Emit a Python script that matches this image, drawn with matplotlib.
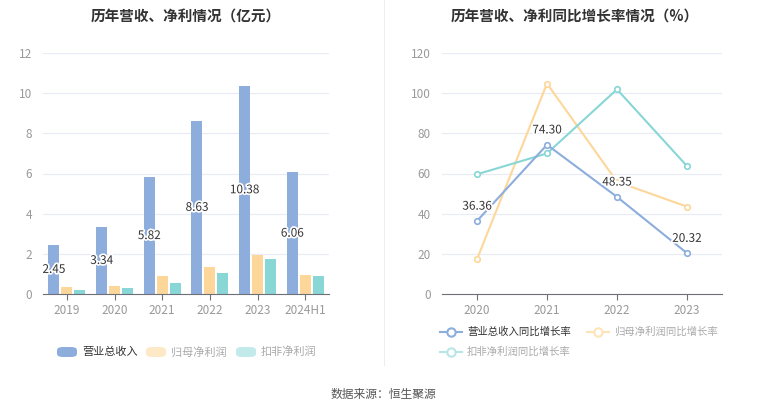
import numpy as np
import matplotlib
matplotlib.use('Agg')
import matplotlib.pyplot as plt
from matplotlib.lines import Line2D
from matplotlib.patches import FancyBboxPatch
import matplotlib.patheffects as pe

plt.rcParams['font.family'] = ['Noto Sans CJK SC', 'DejaVu Sans']

# data
years = ['2019', '2020', '2021', '2022', '2023', '2024H1']
revenue = [2.45, 3.34, 5.82, 8.63, 10.38, 6.06]
net_profit = [0.35, 0.42, 0.88, 1.35, 1.95, 0.97]
deducted_profit = [0.20, 0.30, 0.55, 1.07, 1.75, 0.90]

growth_years = ['2020', '2021', '2022', '2023']
revenue_growth = [36.36, 74.30, 48.35, 20.32]
net_profit_growth = [17.3, 104.8, 55.9, 43.5]
deducted_growth = [59.6, 70.0, 101.9, 63.7]

BLUE = '#8daddc'
YELLOW = '#fdd79a'
TEAL = '#88d6d6'
GRID = '#e6ebf5'
TICK = '#999999'

W, H = 765, 413
fig = plt.figure(figsize=(W / 100, H / 100), dpi=100)


def px_axes(x0, y0, x1, y1):
    return fig.add_axes([x0 / W, 1 - y1 / H, (x1 - x0) / W, (y1 - y0) / H])


def style(ax):
    for s in ['top', 'right', 'left']:
        ax.spines[s].set_visible(False)
    ax.spines['bottom'].set_color('#6e7079')
    ax.spines['bottom'].set_linewidth(0.8)
    ax.grid(axis='y', color=GRID, linewidth=0.8)
    ax.set_axisbelow(True)
    ax.tick_params(axis='y', length=0, labelsize=8.5, labelcolor=TICK, pad=8)
    ax.tick_params(axis='x', length=4, color='#6e7079', labelsize=8.5,
                   labelcolor=TICK, pad=3)


# left: bars
ax1 = px_axes(43, 53, 329, 294)
x = np.arange(len(years))
bw = 0.23
off = 0.27
ax1.bar(x - off, revenue, bw, color=BLUE, zorder=2)
ax1.bar(x, net_profit, bw, color=YELLOW, zorder=2)
ax1.bar(x + off, deducted_profit, bw, color=TEAL, zorder=2)
for xi, v in zip(x, revenue):
    ax1.text(xi - off, v / 2, f'{v:.2f}', ha='center', va='center', fontsize=8.5,
             color='#333333', zorder=3,
             path_effects=[pe.withStroke(linewidth=2.5, foreground='white')])
ax1.set_xlim(-0.5, len(years) - 0.5)
ax1.set_ylim(0, 12)
ax1.set_yticks(range(0, 13, 2))
ax1.set_xticks(x)
ax1.set_xticklabels(years)
style(ax1)

# right: lines
ax2 = px_axes(442, 53, 722, 294)
xg = np.arange(len(growth_years))
mk = dict(marker='o', markersize=4, markerfacecolor='white', markeredgewidth=1.2)
ax2.plot(xg, net_profit_growth, color=YELLOW, lw=1.5, zorder=2, **mk)
ax2.plot(xg, deducted_growth, color=TEAL, lw=1.5, zorder=2, **mk)
ax2.plot(xg, revenue_growth, color=BLUE, lw=1.5, zorder=3, **mk)
for xi, v in zip(xg, revenue_growth):
    ax2.annotate(f'{v:.2f}', (xi, v), xytext=(0, 6), textcoords='offset points',
                 ha='center', va='bottom', fontsize=8.5, color='#333333', zorder=4,
                 path_effects=[pe.withStroke(linewidth=2.5, foreground='white')])
ax2.set_xlim(-0.5, len(growth_years) - 0.5)
ax2.set_ylim(0, 120)
ax2.set_yticks(range(0, 121, 20))
ax2.set_xticks(xg)
ax2.set_xticklabels(growth_years)
style(ax2)

# titles
fig.text(186 / W, 1 - 17 / H, '历年营收、净利情况（亿元）', ha='center', va='center',
         fontsize=10.5, fontweight='bold', color='#333333')
fig.text(575 / W, 1 - 17 / H, '历年营收、净利同比增长率情况（%）', ha='center', va='center',
         fontsize=10.5, fontweight='bold', color='#333333')

# separator
fig.add_artist(Line2D([384 / W, 384 / W], [1, 1 - 365 / H], color='#eeeeee', lw=0.8))

# left legend (manual)
leg_items = [('营业总收入', BLUE, '#333333', 57),
             ('归母净利润', '#fde9c6', '#aaaaaa', 146),
             ('扣非净利润', '#c2eaea', '#aaaaaa', 236)]
for label, c, tc, lx in leg_items:
    fig.add_artist(FancyBboxPatch((lx / W, 1 - 357 / H), 20 / W, 10 / H,
                                  boxstyle='round,pad=0,rounding_size=0.008',
                                  transform=fig.transFigure, color=c, lw=0))
    fig.text((lx + 25) / W, 1 - 352 / H, label, ha='left', va='center',
             fontsize=8, color=tc)

# right legend (manual)
rleg = [('营业总收入同比增长率', BLUE, '#333333', 440, 332),
        ('归母净利润同比增长率', '#fde3b8', '#aaaaaa', 587, 332),
        ('扣非净利润同比增长率', '#b8e6e6', '#aaaaaa', 440, 352)]
for label, c, tc, lx, ly in rleg:
    fig.add_artist(Line2D([lx / W, (lx + 22) / W], [1 - ly / H, 1 - ly / H],
                          color=c, lw=1.5))
    fig.add_artist(Line2D([(lx + 11) / W], [1 - ly / H], marker='o', markersize=6,
                          markerfacecolor='white', markeredgecolor=c,
                          markeredgewidth=1.5))
    fig.text((lx + 27) / W, 1 - ly / H, label, ha='left', va='center',
             fontsize=7.5, color=tc)

fig.text(383 / W, 1 - 394 / H, '数据来源：恒生聚源', ha='center', va='center',
         fontsize=8.5, color='#555555')

fig.savefig('out.png', dpi=100)
